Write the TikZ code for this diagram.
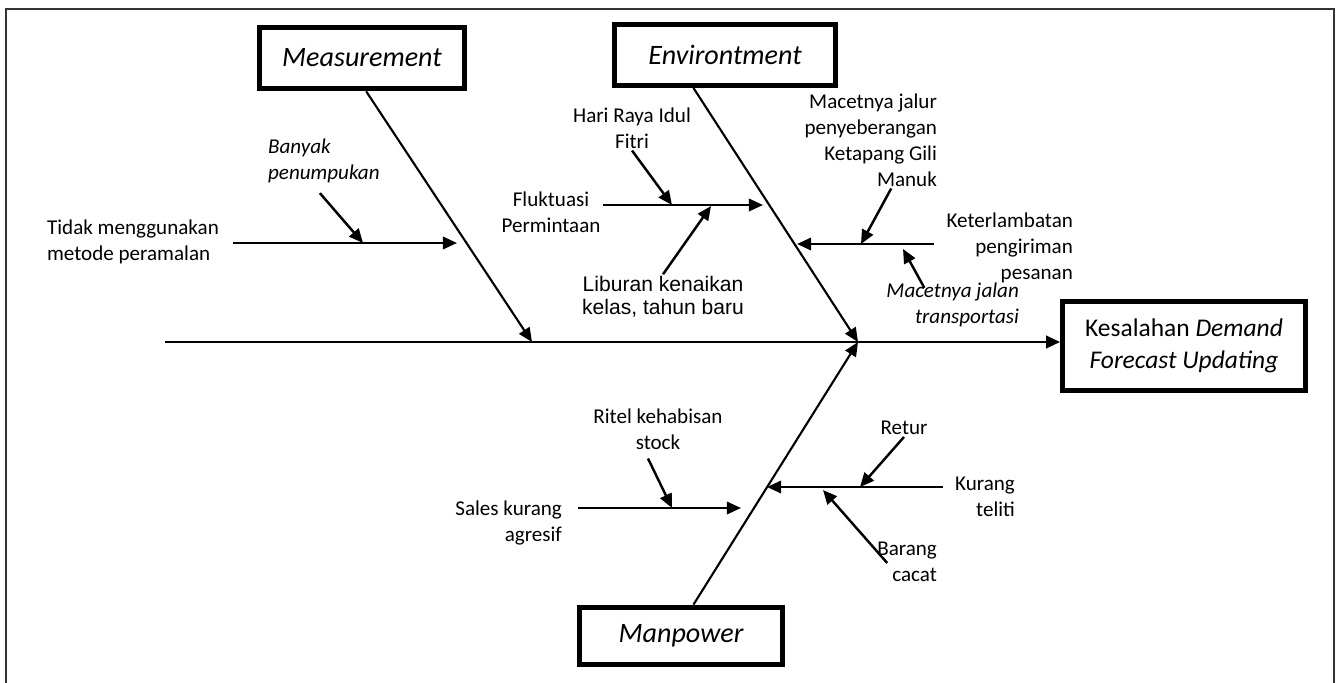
\documentclass[tikz,border=0pt]{standalone}
\usepackage{fontspec}
\setmainfont{Carlito}
\newfontfamily\arialfont{Liberation Sans}
\usetikzlibrary{arrows.meta}
\usetikzlibrary{calc}

\begin{document}
\begin{tikzpicture}[x=0.02cm,y=-0.02cm]

\tikzstyle{cause} = [draw, line width=3pt, inner sep=0pt, font=\fontsize{16}{19}\selectfont\itshape]
\tikzstyle{effect} = [draw, line width=3pt, inner sep=0pt, align=center, font=\fontsize{14.5}{18.2}\selectfont]
\tikzstyle{txt} = [inner sep=1pt, font=\fontsize{12}{14.8}\selectfont]
\tikzstyle{itxt} = [inner sep=1pt, font=\fontsize{12}{14.8}\selectfont\itshape]
\tikzstyle{spine} = [line width=1.7pt, -{Triangle[length=8pt,width=7pt]}]
\tikzstyle{bone} = [line width=1.2pt, -{Triangle[length=8pt,width=7pt]}]
\tikzstyle{branch} = [line width=1.4pt, -{Triangle[length=8pt,width=7pt]}]

\useasboundingbox (0,0) rectangle (1336,683);
\draw[line width=1.4pt, black!80] (6,683) -- (6,9) -- (1334,9) -- (1334,683);

% boxes
\node[cause, minimum width=4.09cm, minimum height=1.23cm] (meas) at (362,58) {Measurement};
\node[cause, minimum width=4.41cm, minimum height=1.21cm] (env) at (725,55) {Environtment};
\node[cause, minimum width=4.05cm, minimum height=1.15cm] (man) at (681,636) {Manpower};
\node[effect, minimum width=4.85cm, minimum height=1.79cm] (eff) at (1184,346) {Kesalahan \textit{Demand}\\\textit{Forecast Updating}};

% spine and bones
\coordinate (tail) at (165,342);
\coordinate (m-joint) at (532,342);
\coordinate (e-joint) at (858,342);
\draw[spine] (tail) -- (tail -| eff.west);
\draw[bone] ($(meas.south west)!0.52!(meas.south east)$) -- (m-joint);
\draw[bone] ($(env.south west)!0.36!(env.south east)$) -- (e-joint);
\draw[bone] ($(man.north west)!0.56!(man.north east)$) -- (e-joint);

% measurement
\node[txt, anchor=west, align=left] (tidak) at (45,242) {Tidak menggunakan\\metode peramalan};
\node[itxt, anchor=west, align=left] (banyak) at (266,161) {Banyak\\penumpukan};
\coordinate (tidak-end) at (457,243);
\coordinate (banyak-end) at (363,243);
\draw[branch, shorten <=7pt] (tidak-end -| tidak.east) -- (tidak-end);
\draw[branch] ($(banyak.south)+(-4,8)$) -- (banyak-end);

% environtment, left
\node[txt, align=center] (hari) at (632,128) {Hari Raya Idul\\Fitri};
\node[txt, align=center] (fluk) at (551,212) {Fluktuasi\\Permintaan};
\node[txt, align=center, font=\arialfont\fontsize{12}{13.2}\selectfont] (libur) at (663,297) {Liburan kenaikan\\kelas, tahun baru};
\coordinate (fluk-end) at (763,205);
\coordinate (hari-end) at (672,205);
\coordinate (libur-end) at (711,206);
\draw[branch] (fluk-end -| fluk.east) -- (fluk-end);
\draw[branch] (hari.south) -- (hari-end);
\draw[branch] (libur.north) -- (libur-end);

% environtment, right
\node[txt, anchor=east, align=right] (macj) at (939,140) {Macetnya jalur\\penyeberangan\\Ketapang Gili\\Manuk};
\node[txt, anchor=east, align=right] (ketr) at (1075,248) {Keterlambatan\\pengiriman\\pesanan};
\node[itxt, anchor=east, align=right] (macjl) at (1021,305) {Macetnya jalan\\transportasi};
\coordinate (ketr-end) at (797,244);
\coordinate (macj-end) at (861,244);
\coordinate (macjl-end) at (903,249);
\draw[branch, shorten <=6pt] (ketr-end -| ketr.west) -- (ketr-end);
\draw[branch] ($(macj.south)!0.3!(macj.south east)$) -- (macj-end);
\draw[branch] ($(macjl.north west)+(40,7)$) -- (macjl-end);

% manpower
\node[txt, align=center] (ritel) at (658,429) {Ritel kehabisan\\stock};
\node[txt, anchor=east, align=right] (sales) at (564,523) {Sales kurang\\agresif};
\node[txt, align=center] (retur) at (904,428) {Retur};
\node[txt, anchor=east, align=right] (kurang) at (1017,497) {Kurang\\teliti};
\node[txt, anchor=east, align=right] (barang) at (939,562) {Barang\\cacat};
\coordinate (sales-end) at (741,508);
\coordinate (ritel-end) at (672,508);
\coordinate (kurang-end) at (767,487);
\coordinate (retur-end) at (860,487);
\coordinate (barang-end) at (823,490);
\draw[branch, shorten <=8pt] (sales-end -| sales.east) -- (sales-end);
\draw[branch] ($(ritel.south)+(-10,7)$) -- (ritel-end);
\draw[branch, shorten <=6pt] (kurang-end -| kurang.west) -- (kurang-end);
\draw[branch] (retur.south) -- (retur-end);
\draw[branch] ($(barang.west)+(12,1)$) -- (barang-end);

\end{tikzpicture}
\end{document}
